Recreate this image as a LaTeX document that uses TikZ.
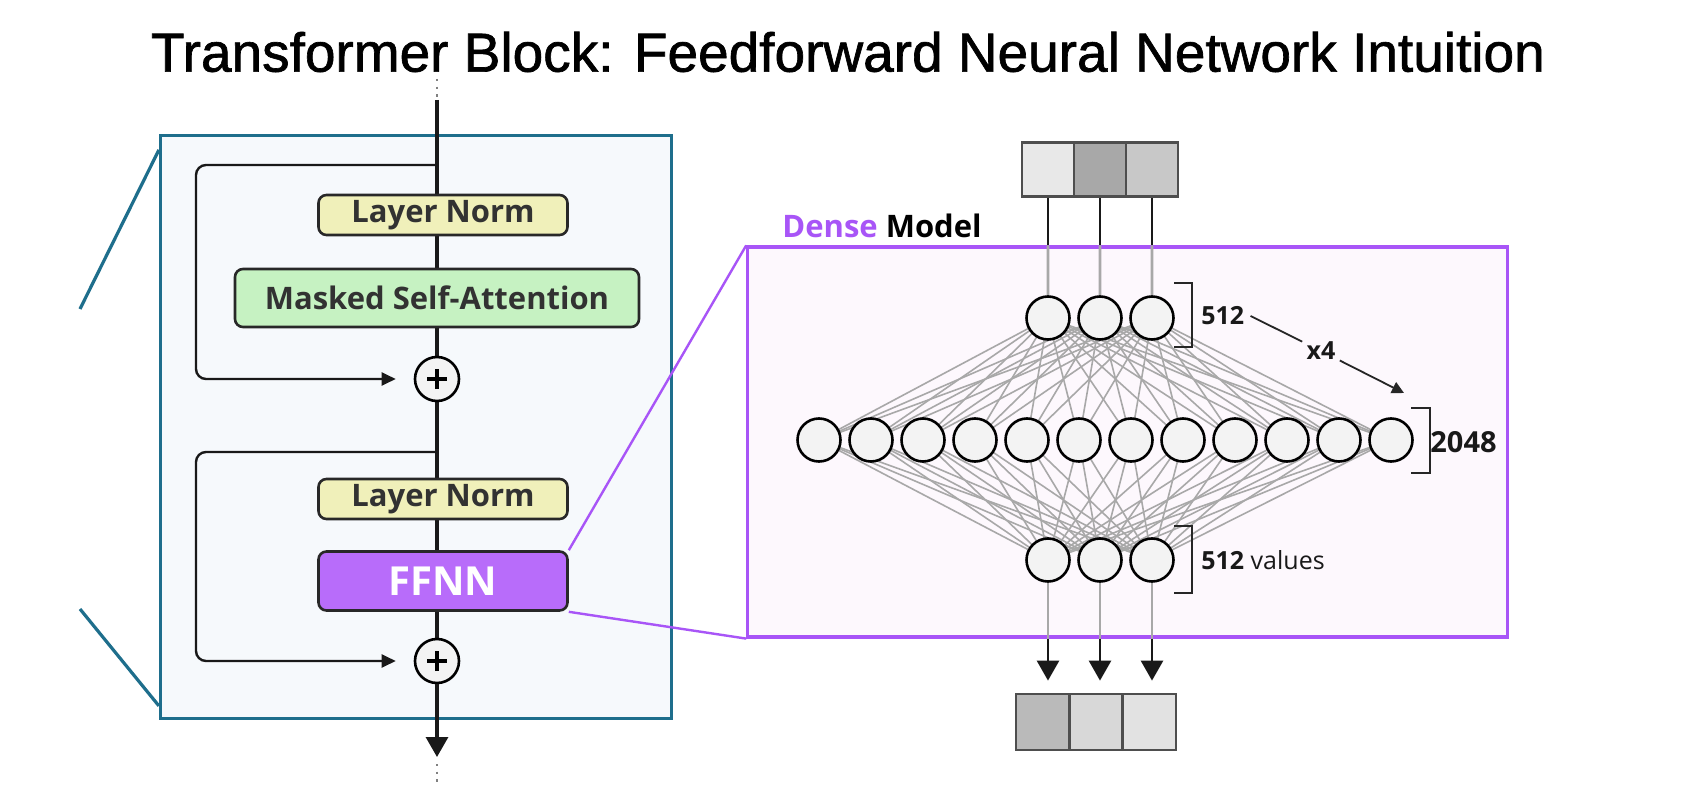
\documentclass[tikz,border=0pt]{standalone}
\usepackage{fontspec}
\setmainfont{Liberation Sans}
\newfontfamily\titlefont{Liberation Sans}[FakeBold=1.2]
\newfontfamily\pop{Open Sans}
\usetikzlibrary{arrows.meta,calc}
\pgfdeclarelayer{bg}
\pgfdeclarelayer{mid}
\pgfsetlayers{bg,mid,main}
\definecolor{tealc}{RGB}{30,110,140}
\definecolor{lboxfill}{RGB}{246,249,252}
\definecolor{lnfill}{RGB}{240,240,186}
\definecolor{msafill}{RGB}{198,242,194}
\definecolor{ffnnfill}{RGB}{184,108,250}
\definecolor{purp}{RGB}{168,85,247}
\definecolor{densefill}{RGB}{253,248,253}
\definecolor{boxline}{RGB}{40,40,40}
\definecolor{txtdark}{RGB}{50,50,50}
\definecolor{conngray}{RGB}{168,168,168}
\definecolor{neurfill}{RGB}{243,243,243}
\definecolor{cellline}{RGB}{78,78,78}
\definecolor{cA}{RGB}{232,232,232}
\definecolor{cB}{RGB}{168,168,168}
\definecolor{cC}{RGB}{200,200,200}
\definecolor{oA}{RGB}{186,186,186}
\definecolor{oB}{RGB}{216,216,216}
\definecolor{oC}{RGB}{226,226,226}
\begin{document}
\begin{tikzpicture}[x=0.5pt,y=-0.5pt,
 stepbox/.style={draw=boxline, rounded corners=4pt, line width=1.3pt, inner sep=0pt, text=txtdark, font=\pop\bfseries\fontsize{15.5}{18}\selectfont},
 lnbox/.style={stepbox, fill=lnfill, minimum width=124.5pt, minimum height=20pt},
 msabox/.style={stepbox, fill=msafill, minimum width=202pt, minimum height=29pt},
 ffnnbox/.style={stepbox, fill=ffnnfill, minimum width=124.5pt, minimum height=29.5pt, text=white, font=\pop\bfseries\fontsize{20}{23}\selectfont},
 plusnode/.style={circle, draw=black, fill=neurfill, line width=1.3pt, minimum size=22pt, inner sep=0pt},
 mainline/.style={line width=1.6pt, draw=black!90},
 skipline/.style={line width=1.2pt, draw=black!90, rounded corners=5pt, -{Triangle[length=7pt,width=6.5pt]}, shorten >=9pt},
 neuron/.style={circle, draw=black, fill=neurfill, line width=1.3pt, minimum size=21.5pt, inner sep=0pt},
 conn/.style={draw=conngray, line width=0.8pt},
 cell/.style={draw=cellline, line width=1.4pt, minimum width=26pt, minimum height=27pt, inner sep=0pt},
 ocell/.style={draw=cellline, line width=1.4pt, minimum width=26.7pt, minimum height=28pt, inner sep=0pt},
 lbl/.style={font=\pop\bfseries\fontsize{12.5}{15}\selectfont, inner sep=3pt, text=black!90},
 bracket/.style={line width=1pt, draw=black!85},
 dotline/.style={draw=gray, line width=1.1pt, dash pattern=on 1.2pt off 2.6pt},
 bigtip/.style={-{Triangle[length=10pt,width=11pt]}},
]
\useasboundingbox (0,0) rectangle (1699,808);
\begin{pgfonlayer}{bg}
\fill[white] (0,0) rectangle (1699,808);
\node[draw=tealc, fill=lboxfill, line width=1.5pt, minimum width=255.7pt, minimum height=291.5pt, inner sep=0pt] (lbox) at (416.1,426.9) {};
\node[draw=purp, fill=densefill, line width=1.6pt, minimum width=380pt, minimum height=195pt, inner sep=0pt] (dense) at (1127.8,442) {};
\end{pgfonlayer}

% title
\node[font=\titlefont\fontsize{27.5}{32}\selectfont] (title) at (848,52) {Transformer Block: Feedforward Neural Network Intuition};

% teal zoom lines
\coordinate (tl) at (80,309);
\coordinate (bl) at (80,609);
\draw[tealc, line width=1.6pt] ([yshift=-8pt]lbox.north west) -- (tl);
\draw[tealc, line width=1.6pt] ([yshift=7pt]lbox.south west) -- (bl);

% left block
\coordinate (dtop) at (437,79);
\coordinate (topc) at (437,100);
\coordinate (endc) at (437,757);
\coordinate (dbot1) at (437,764);
\coordinate (dbot2) at (437,784);
\node[lnbox] (ln1) at (443,215) {Layer Norm};
\node[msabox] (msa) at (437,298) {Masked Self-Attention};
\node[plusnode] (plus1) at (437,379) {};
\node[lnbox] (ln2) at (443,499) {Layer Norm};
\node[ffnnbox] (ffnn) at (443,581) {FFNN};
\node[plusnode] (plus2) at (437,661) {};
\foreach \p in {plus1,plus2} {
  \draw[line width=1.7pt] ([xshift=-5pt]\p.center) -- ([xshift=5pt]\p.center);
  \draw[line width=1.7pt] ([yshift=-5pt]\p.center) -- ([yshift=5pt]\p.center);
}
\begin{pgfonlayer}{mid}
\draw[mainline] (topc) -- (plus2.center);
\end{pgfonlayer}
\draw[mainline, bigtip] (plus2.south) -- (endc);
\draw[dotline] (dtop) -- (topc);
\draw[dotline] (dbot1) -- (dbot2);
\coordinate (s1) at (437,165);
\coordinate (s2) at (437,452);
\draw[skipline] (s1) -- ++(-241,0) |- (plus1.west);
\draw[skipline] (s2) -- ++(-241,0) |- (plus2.west);

% purple zoom lines
\draw[purp, line width=1.2pt] (ffnn.north east) -- (dense.north west);
\draw[purp, line width=1.2pt] (ffnn.south east) -- (dense.south west);

% dense model label
\node[anchor=west, inner sep=0pt, font=\pop\bfseries\fontsize{15.5}{18}\selectfont] (dlabel) at (782,226) {\textcolor{purp}{Dense} Model};

% input vector
\node[cell, fill=cA] (in1) at (1047.9,169.7) {};
\node[cell, fill=cB] (in2) at (1099.9,169.7) {};
\node[cell, fill=cC] (in3) at (1151.9,169.7) {};
% output vector
\node[ocell, fill=oA] (oc1) at (1042.7,722) {};
\node[ocell, fill=oB] (oc2) at (1096,722) {};
\node[ocell, fill=oC] (oc3) at (1149.3,722) {};

% neurons
\foreach \i/\x in {1/1048,2/1100,3/1152} {
  \node[neuron] (t\i) at (\x,318) {};
  \node[neuron] (b\i) at (\x,560) {};
}
\foreach \j in {1,...,12} \node[neuron] (m\j) at ({819+52*(\j-1)},440) {};

\begin{pgfonlayer}{mid}
\foreach \i in {1,2,3} {
  \foreach \j in {1,...,12} {
    \draw[conn] (t\i.center) -- (m\j.center);
    \draw[conn] (m\j.center) -- (b\i.center);
  }
  \draw[line width=1.4pt, black!90] (in\i.south) -- (in\i |- dense.north);
  \draw[line width=1.4pt, draw=conngray] (in\i |- dense.north) -- (t\i.north);
  \draw[line width=1.4pt, draw=conngray] (b\i.south) -- (b\i |- dense.south);
}
\end{pgfonlayer}
\foreach \i in {1,2,3} {
  \draw[line width=1.4pt, black!90, bigtip, shorten >=6pt] (b\i |- dense.south) -- (b\i |- oc\i.north);
}

% brackets and labels
\draw[bracket] (1174,283) -- (1192,283) -- (1192,347) -- (1174,347);
\draw[bracket] (1411,408) -- (1430,408) -- (1430,473) -- (1411,473);
\draw[bracket] (1174,526) -- (1192,526) -- (1192,593) -- (1174,593);
\node[lbl, anchor=west] (n512) at (1195,316) {512};
\node[lbl, anchor=west, font=\pop\bfseries\fontsize{14.5}{17}\selectfont] (n2048) at (1424,442) {2048};
\node[lbl, anchor=west] (nvals) at (1195,560) {512 \mdseries values};
\node[lbl, inner sep=2pt] (x4) at (1321,351) {x4};
\coordinate (x4tip) at (1404,393);
\draw[line width=0.9pt, black!85] (n512.east) -- (x4);
\draw[line width=0.9pt, black!85, -{Triangle[length=6pt,width=6pt]}] (x4) -- (x4tip);
\end{tikzpicture}
\end{document}
